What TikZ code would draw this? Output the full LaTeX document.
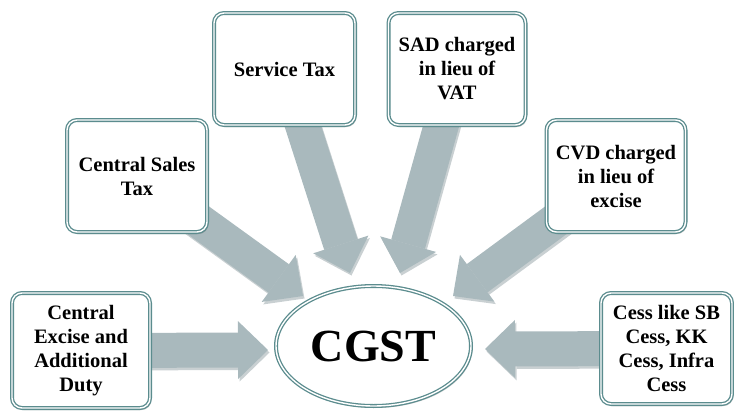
\documentclass[tikz,border=0pt]{standalone}
\usepackage{fontspec}
\setmainfont{Liberation Serif}[BoldFont={Liberation Serif Bold}]
\newfontfamily\labelfont{Liberation Serif Bold}
\usetikzlibrary{shapes.geometric,arrows.meta,shadows}

\definecolor{frame}{HTML}{5B8C8E}
\definecolor{flow}{HTML}{A9B9BD}
\definecolor{flowshadow}{HTML}{C9D0D2}

\pgfdeclarelayer{back}
\pgfsetlayers{back,main}

\tikzset{
  taxbox/.style={draw=frame, double=white, double distance=1.4pt, line width=1.3pt,
    fill=white, rounded corners=10pt, align=center, inner sep=2pt,
    font=\labelfont\fontsize{20.5}{24}\selectfont,
    drop shadow={shadow xshift=1.5pt, shadow yshift=-2pt, opacity=0.3, fill=black!70}},
  hub/.style={ellipse, draw=frame, double=white, double distance=1.4pt, line width=1.3pt,
    fill=white, inner sep=0pt, minimum width=195pt, minimum height=120pt,
    font=\labelfont\fontsize{46}{50}\selectfont,
    drop shadow={shadow xshift=1.5pt, shadow yshift=-2pt, opacity=0.25, fill=black!70}},
  flowarrow/.style={draw=flow, line width=35pt,
    -{Triangle[length=30pt, width=58pt, line width=0pt]}},
  flowshade/.style={draw=flowshadow, line width=35pt,
    -{Triangle[length=30pt, width=58pt, line width=0pt]},
    transform canvas={xshift=1.5pt, yshift=-2.5pt}}
}

\begin{document}
\begin{tikzpicture}[x=1pt, y=-1pt]
  \useasboundingbox (0,0) rectangle (734,410);

  % the central tax and the levies it absorbs
  \node[hub] (cgst) at (373.5,346) {CGST};

  \node[taxbox, minimum width=138pt, minimum height=115pt] (ced) at (81,350.5)
    {Central\\Excise and\\Additional\\Duty};
  \node[taxbox, minimum width=140pt, minimum height=112pt] (cst) at (137,176)
    {Central Sales\\Tax};
  \node[taxbox, minimum width=141pt, minimum height=112pt] (st) at (284.5,69)
    {Service Tax};
  \node[taxbox, minimum width=137pt, minimum height=112pt] (sad) at (457,69)
    {SAD charged\\in lieu of\\VAT};
  \node[taxbox, minimum width=139pt, minimum height=112pt] (cvd) at (616,176)
    {CVD charged\\in lieu of\\excise};
  \node[taxbox, minimum width=131pt, minimum height=111pt] (cess) at (666.5,348.5)
    {Cess like SB\\Cess, KK\\Cess, Infra\\Cess};

  % arrow tips just outside the ellipse
  \coordinate (t-ced)  at (268,350);
  \coordinate (t-cst)  at (303,296);
  \coordinate (t-st)   at (350,273);
  \coordinate (t-sad)  at (400,273);
  \coordinate (t-cvd)  at (453,296);
  \coordinate (t-cess) at (485,349);

  \begin{pgfonlayer}{back}
    \foreach \src in {ced,cst,st,sad,cvd,cess}
      \draw[flowshade] (\src.center) -- (t-\src);
    \foreach \src in {ced,cst,st,sad,cvd,cess}
      \draw[flowarrow] (\src.center) -- (t-\src);
  \end{pgfonlayer}
\end{tikzpicture}
\end{document}
